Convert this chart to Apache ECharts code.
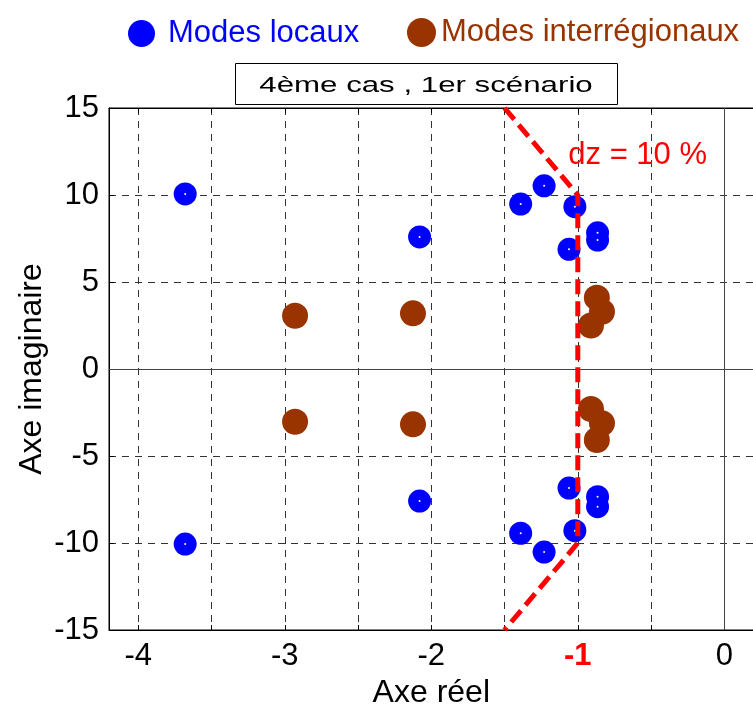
<!DOCTYPE html>
<html><head><meta charset="utf-8">
<script src="https://cdn.jsdelivr.net/npm/echarts@6/dist/echarts.min.js"></script>
<style>html,body{margin:0;padding:0;background:#fff}#c{width:753px;height:706px}</style>
</head><body><div id="c"></div>
<script>
// ---- data ----
const localX = [-3.68, -3.68, -2.08, -2.08, -1.39, -1.39, -1.23, -1.23, -1.02, -1.02, -1.06, -1.06, -0.865, -0.865, -0.865, -0.865];
const localY = [10.06, -10.06, 7.59, -7.59, 9.48, -9.44, 10.53, -10.52, 9.33, -9.29, 6.88, -6.84, 7.83, -7.91, 7.41, -7.34];
const interX = [-2.93, -2.93, -2.125, -2.125, -0.87, -0.87, -0.835, -0.835, -0.91, -0.91];
const interY = [3.06, -3.03, 3.2, -3.18, 4.1, -4.08, 3.29, -3.12, 2.5, -2.3];
const dzX = [-1.5, -1, -1, -1.5];
const dzY = [15, 10, -10, -15];
const yTicks = [-15, -10, -5, 0, 5, 10, 15];
const seriesNames = ['Modes locaux', 'Modes interrégionaux'];
const titleText = '4ème cas , 1er scénario';
const dzText = 'dz = 10 %';
const dzLabelAt = [-1.065, 12.25];

const FONT = "'Liberation Sans', Arial, Helvetica, sans-serif";
const zip = (xs, ys) => xs.map((x, i) => [x, ys[i]]);
const chart = echarts.init(document.getElementById('c'), null, {renderer: 'canvas'});

const axisCommonX = {
  type: 'value', min: -4.2, max: 0.2, minInterval: 0.5, maxInterval: 0.5, splitNumber: 9,
  axisLine: {show: true, onZero: false, lineStyle: {color: '#000', width: 1}},
  axisTick: {show: true, inside: true, length: 5, lineStyle: {color: '#000'}},
};

const option = {
  animation: false,
  backgroundColor: '#fff',
  legend: [
    {data: [seriesNames[0]], left: 123, top: 13, icon: 'circle', itemWidth: 27, itemHeight: 27,
     textStyle: {color: '#0000FF', fontSize: 31, fontFamily: FONT, padding: [0, 0, 0, 8]}},
    {data: [seriesNames[1]], left: 402, top: 12, icon: 'circle', itemWidth: 29, itemHeight: 29,
     textStyle: {color: '#993300', fontSize: 31, fontFamily: FONT}}
  ],
  grid: {left: 109, top: 108, width: 644.6, height: 522, show: true, borderColor: '#000', borderWidth: 1,
         containLabel: false, outerBoundsMode: 'none'},
  xAxis: [
    Object.assign({}, axisCommonX, {
      position: 'bottom',
      name: 'Axe réel', nameLocation: 'middle', nameGap: 40,
      nameTextStyle: {color: '#000', fontSize: 32, fontFamily: FONT},
      axisLabel: {
        margin: 11, color: '#000', fontSize: 31, fontFamily: FONT,
        formatter: v => {
          if (Math.abs(v - Math.round(v)) > 1e-9) return '';
          const r = Math.round(v);
          return r === -1 ? '{r|-1}' : '{n|' + r + '}';
        },
        rich: {
          r: {color: '#FF0000', fontWeight: 'bold', fontSize: 31, fontFamily: FONT},
          n: {color: '#000', fontSize: 31, fontFamily: FONT}
        }
      },
      splitLine: {show: true, lineStyle: {color: '#333', width: 1, type: [7, 6]}}
    }),
    Object.assign({}, axisCommonX, {
      position: 'top', axisLabel: {show: false}, splitLine: {show: false}
    })
  ],
  yAxis: {
    type: 'value', min: -15, max: 15, interval: 5,
    name: 'Axe imaginaire', nameLocation: 'middle', nameGap: 61, nameMoveOverlap: false,
    nameTextStyle: {color: '#000', fontSize: 32, fontFamily: FONT},
    axisLine: {show: true, onZero: false, lineStyle: {color: '#000', width: 1}},
    axisTick: {show: true, inside: true, length: 5, lineStyle: {color: '#000'}},
    axisLabel: {margin: 10, color: '#000', fontSize: 31, fontFamily: FONT,
      formatter: v => yTicks.includes(v) ? String(v) : ''},
    splitLine: {show: true, lineStyle: {color: '#333', width: 1, type: [7, 6]}}
  },
  series: [
    {type: 'scatter', name: 'axes0', data: [], z: 1, silent: true,
     markLine: {silent: true, symbol: 'none', label: {show: false}, animation: false,
       lineStyle: {type: 'solid', color: '#444', width: 1},
       data: [{xAxis: 0}, {yAxis: 0}]}},
    {type: 'scatter', name: seriesNames[0], data: zip(localX, localY), symbol: 'circle', symbolSize: 23,
     itemStyle: {color: '#0000FF', opacity: 1}, z: 3},
    {type: 'scatter', name: seriesNames[1], data: zip(interX, interY), symbol: 'circle', symbolSize: 26,
     itemStyle: {color: '#993300', opacity: 1}, z: 3},
    {type: 'scatter', name: 'dots', data: zip(localX, localY), symbol: 'circle', symbolSize: 2,
     itemStyle: {color: '#fff', opacity: 1}, z: 4, silent: true},
    {type: 'line', name: 'dz', data: zip(dzX, dzY), showSymbol: false, symbol: 'none',
     lineStyle: {color: '#FF0000', width: 5, type: [15, 7]}, z: 5, silent: true}
  ]
};
chart.setOption(option);

const p = chart.convertToPixel({xAxisIndex: 0, yAxisIndex: 0}, dzLabelAt);
chart.setOption({
  graphic: [
    {type: 'rect', shape: {x: 235.5, y: 63.5, width: 382, height: 41},
     style: {fill: '#fff', stroke: '#000', lineWidth: 1}, z: 10},
    {type: 'text', x: 426, y: 86, scaleX: 1.42, z: 11,
     style: {text: titleText, fontSize: 22, fontFamily: FONT, fill: '#000', align: 'center', verticalAlign: 'middle'}},
    {type: 'text', x: p[0], y: p[1], z: 11,
     style: {text: dzText, fontSize: 31, fontFamily: FONT, fill: '#FF0000', align: 'left', verticalAlign: 'middle'}}
  ]
});
</script>
</body></html>
